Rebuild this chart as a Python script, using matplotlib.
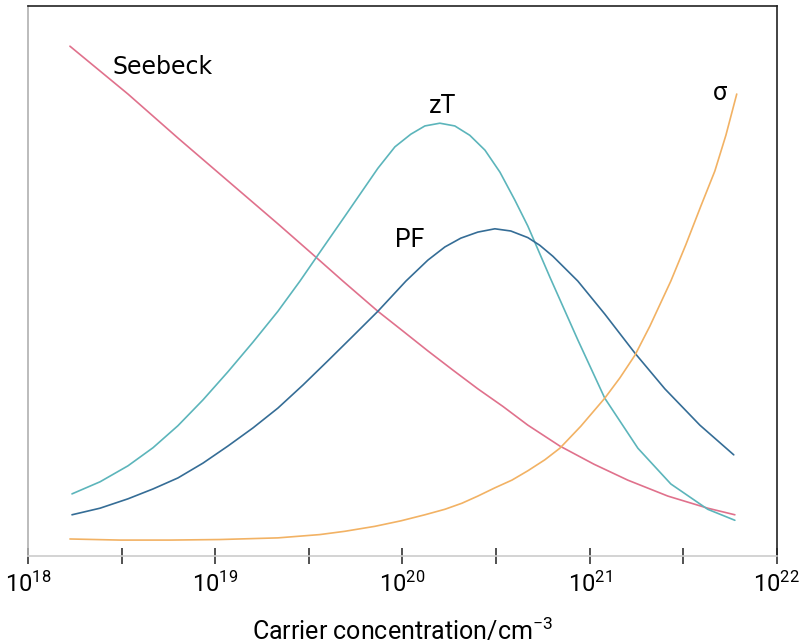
import numpy as np
import matplotlib
matplotlib.use("Agg")
import matplotlib.pyplot as plt

plt.rcParams['font.family'] = ['Roboto', 'DejaVu Sans']
plt.rcParams['mathtext.fontset'] = 'custom'
plt.rcParams['mathtext.rm'] = 'Roboto'
plt.rcParams['mathtext.it'] = 'Roboto:italic'

# log10 of carrier concentration (cm^-3) and curve heights (arbitrary units)
seebeck_logn = [18.224, 18.534, 18.801, 19.068, 19.335, 19.506, 19.682, 19.869,
                20.003, 20.136, 20.270, 20.403, 20.537, 20.670, 20.841, 21.023,
                21.204, 21.418, 21.631, 21.776]
seebeck_y = [0.927, 0.840, 0.760, 0.682, 0.604, 0.553, 0.500, 0.445,
             0.409, 0.373, 0.338, 0.304, 0.272, 0.238, 0.200, 0.167,
             0.138, 0.109, 0.087, 0.075]

zt_logn = [18.235, 18.385, 18.534, 18.668, 18.801, 18.935, 19.068, 19.202,
           19.335, 19.453, 19.538, 19.693, 19.869, 19.960, 20.045, 20.120,
           20.200, 20.280, 20.360, 20.441, 20.521, 20.601, 20.670, 20.788,
           20.937, 21.081, 21.258, 21.434, 21.631, 21.776]
zt_y = [0.113, 0.135, 0.164, 0.197, 0.237, 0.284, 0.335, 0.389,
        0.445, 0.500, 0.542, 0.618, 0.705, 0.744, 0.767, 0.782,
        0.787, 0.782, 0.765, 0.738, 0.698, 0.647, 0.600, 0.507,
        0.393, 0.287, 0.196, 0.131, 0.085, 0.065]

pf_logn = [18.235, 18.385, 18.534, 18.668, 18.801, 18.935, 19.068, 19.202,
           19.335, 19.469, 19.602, 19.736, 19.869, 20.019, 20.136, 20.227,
           20.312, 20.403, 20.494, 20.579, 20.670, 20.734, 20.804, 20.937,
           21.081, 21.242, 21.402, 21.589, 21.770]
pf_y = [0.075, 0.087, 0.104, 0.122, 0.142, 0.169, 0.200, 0.233,
        0.269, 0.311, 0.355, 0.400, 0.445, 0.500, 0.538, 0.562,
        0.578, 0.589, 0.595, 0.591, 0.579, 0.565, 0.545, 0.500,
        0.440, 0.369, 0.304, 0.238, 0.184]

sigma_logn = [18.224, 18.491, 18.758, 19.025, 19.335, 19.559, 19.693, 19.853,
              19.992, 20.120, 20.227, 20.318, 20.403, 20.494, 20.585, 20.670,
              20.761, 20.841, 20.953, 21.081, 21.162, 21.242, 21.322, 21.434,
              21.514, 21.594, 21.669, 21.728, 21.786]
sigma_y = [0.031, 0.029, 0.029, 0.030, 0.033, 0.039, 0.045, 0.054,
           0.064, 0.075, 0.085, 0.096, 0.109, 0.124, 0.138, 0.155,
           0.175, 0.196, 0.236, 0.287, 0.324, 0.365, 0.418, 0.500,
           0.566, 0.636, 0.700, 0.765, 0.840]

c_seebeck = '#e0718c'
c_zt = '#5cb5bb'
c_pf = '#356d96'
c_sigma = '#f2b264'

fig = plt.figure(figsize=(8, 6.44), dpi=100)
ax = fig.add_axes([0.035, 0.1366, 0.936, 0.854])

line_kw = dict(lw=1.2, solid_joinstyle='round', solid_capstyle='round')
ax.plot(10**np.array(seebeck_logn), seebeck_y, c=c_seebeck, **line_kw)
ax.plot(10**np.array(zt_logn), zt_y, c=c_zt, **line_kw)
ax.plot(10**np.array(pf_logn), pf_y, c=c_pf, **line_kw)
ax.plot(10**np.array(sigma_logn), sigma_y, c=c_sigma, **line_kw)

ax.text(10**18.45, 0.889, 'Seebeck', fontsize=17, va='center', ha='left', family='DejaVu Sans')
ax.text(10**20.216, 0.818, 'zT', fontsize=18, va='center', ha='center')
ax.text(10**20.04, 0.575, 'PF', fontsize=18, va='center', ha='center')
ax.text(10**21.695, 0.842, 'σ', fontsize=18, va='center', ha='center')

ax.set_xscale('log')
ax.set_xlim(1e18, 1e22)
ax.set_ylim(0, 1)
ax.set_yticks([])
ax.set_xticks([1e18, 1e19, 1e20, 1e21, 1e22])
ax.set_xticks([10**18.5, 10**19.5, 10**20.5, 10**21.5], minor=True)
ax.tick_params(axis='x', which='both', direction='inout', length=12, width=1.2,
               color='#333333', labelsize=17, pad=5)
ax.tick_params(axis='x', which='minor', labelbottom=False)

ax.spines['left'].set_color('#b0b0b0')
ax.spines['bottom'].set_color('#cccccc')
ax.spines['top'].set_color('#222222')
ax.spines['right'].set_color('#222222')
for s in ax.spines.values():
    s.set_linewidth(1.2)

ax.set_xlabel('Carrier concentration/cm$^{-3}$', fontsize=18, labelpad=15)

fig.savefig('out.png', dpi=100)
